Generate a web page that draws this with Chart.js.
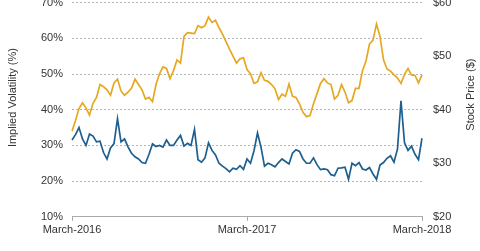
<!DOCTYPE html>
<html>
<head>
<meta charset="utf-8">
<script src="https://cdn.jsdelivr.net/npm/chart.js@4.4.1/dist/chart.umd.min.js"></script>
<style>
  html, body { margin: 0; padding: 0; background: #fff; overflow: hidden; }
  #wrap { position: absolute; left: 0; top: -15px; width: 480px; height: 266px; }
</style>
</head>
<body>
<div id="wrap"><canvas id="volChart"></canvas></div>
<script>
// roughly weekly readings, March 2016 to March 2018
const tickLabels = ['March-2016', 'March-2017', 'March-2018'];
const tickIndex = [0, 50, 100];

const impliedVol = [
    31.5, 33, 35, 31.8, 30, 33.2, 32.6, 31, 31.2, 28,
    26.2, 29.3, 30.5, 37.5, 31, 31.8, 29.6, 27.8, 26.8, 26.2,
    25.2, 25, 27.5, 30.4, 29.7, 30, 29.5, 31.5, 30, 30,
    31.5, 32.8, 29.8, 30.6, 30, 34.5, 26, 25.3, 26.5, 30.7,
    28.6, 27.3, 25, 24.2, 23.5, 22.6, 23.6, 23.3, 24.3, 23.3,
    26.2, 25, 28.5, 33.5, 29.5, 24.2, 25, 24.6, 24, 25.2,
    26.2, 25.5, 24.8, 27.8, 28.8, 28.3, 26.2, 25, 25, 26.5,
    24.6, 23.2, 23.4, 23.2, 21.8, 21.5, 23.6, 23.7, 23.9, 20.5,
    25, 24.3, 25.2, 23.4, 23.1, 23.8, 22, 20.5, 24.5, 25.2,
    26.4, 27.1, 25.3, 29, 42.5, 30.7, 28.6, 29.8, 27.5, 26,
    32
];

const stockPrice = [
    36.0, 38.0, 40.2, 41.3, 40.3, 39.0, 41.2, 42.3, 44.7, 44.3,
    43.7, 42.7, 45.0, 45.7, 43.5, 42.7, 43.3, 44.0, 45.7, 44.7,
    43.7, 42.0, 42.3, 41.5, 44.7, 46.7, 48.0, 47.7, 45.8, 47.3,
    49.3, 48.7, 53.7, 54.4, 54.3, 54.2, 55.7, 55.3, 55.7, 57.3,
    56.3, 56.7, 55.3, 54.1, 52.7, 51.3, 50.0, 48.7, 49.5, 49.7,
    47.5, 46.7, 44.9, 45.2, 46.9, 45.5, 45.3, 44.7, 43.9, 41.9,
    42.9, 42.5, 44.8, 42.5, 42.3, 41.1, 39.5, 38.7, 38.9, 41.1,
    43.0, 44.9, 45.8, 45.0, 44.7, 42.0, 42.7, 44.7, 43.3, 41.3,
    41.7, 44.0, 44.0, 47.3, 49.1, 52.3, 53.0, 56.0, 53.7, 49.3,
    47.6, 47.2, 46.5, 45.9, 44.9, 46.6, 47.7, 46.5, 46.4, 45.0,
    46.5
];

const leftTitle = 'Implied Volatility (%)';
const rightTitle = 'Stock Price ($)';

const FONT = '"Liberation Sans", Arial, sans-serif';
const TEXT = '#333333';

// both axis titles read bottom-to-top, so draw them by hand
const axisTitles = {
    id: 'axisTitles',
    afterDraw(chart) {
        const { ctx, chartArea } = chart;
        ctx.save();
        ctx.font = '11px ' + FONT;
        ctx.fillStyle = TEXT;
        ctx.textAlign = 'center';
        ctx.textBaseline = 'middle';
        [[12.5, chartArea.top + 95, leftTitle], [471, chartArea.top + 92, rightTitle]].forEach(([x, y, t]) => {
            ctx.save();
            ctx.translate(x, y);
            ctx.rotate(-Math.PI / 2);
            ctx.fillText(t, 0, 0);
            ctx.restore();
        });
        ctx.restore();
    }
};

new Chart(document.getElementById('volChart'), {
    type: 'line',
    data: {
        labels: stockPrice.map((_, i) => i),
        datasets: [
            {
                label: 'Implied Volatility',
                data: impliedVol,
                yAxisID: 'y',
                borderColor: '#1d5f8f',
                borderWidth: 1.7,
                pointRadius: 0,
                tension: 0
            },
            {
                label: 'Stock Price',
                data: stockPrice,
                yAxisID: 'y1',
                borderColor: '#e5a823',
                borderWidth: 1.7,
                pointRadius: 0,
                tension: 0
            }
        ]
    },
    options: {
        responsive: true,
        maintainAspectRatio: false,
        animation: false,
        layout: { padding: { top: 0, right: 0, bottom: 11, left: 0 } },
        plugins: {
            legend: { display: false },
            tooltip: { enabled: false }
        },
        scales: {
            x: {
                type: 'category',
                grid: { drawOnChartArea: false, drawTicks: true, tickLength: 4, color: '#aaaaaa' },
                border: { color: '#aaaaaa' },
                ticks: {
                    autoSkip: false,
                    maxRotation: 0,
                    padding: 3,
                    color: TEXT,
                    font: { family: FONT, size: 11 },
                    callback: (v, i) => {
                        const k = tickIndex.indexOf(i);
                        return k >= 0 ? tickLabels[k] : null;
                    }
                }
            },
            y: {
                position: 'left',
                min: 10,
                max: 70,
                afterFit: s => { s.width = 72; },
                grid: {
                    drawTicks: false,
                    color: c => (c.tick && c.tick.value === 10 ? 'rgba(0,0,0,0)' : '#b5b5b5')
                },
                border: { display: false, dash: [2, 2] },
                ticks: {
                    stepSize: 10,
                    padding: 9,
                    color: TEXT,
                    font: { family: FONT, size: 11 },
                    callback: v => v + '%'
                }
            },
            y1: {
                position: 'right',
                min: 20,
                max: 60,
                afterFit: s => { s.width = 58; },
                grid: { drawOnChartArea: false, drawTicks: false },
                border: { display: false },
                ticks: {
                    stepSize: 10,
                    padding: 11,
                    color: TEXT,
                    font: { family: FONT, size: 11 },
                    callback: v => '$' + v
                }
            }
        }
    },
    plugins: [axisTitles]
});
</script>
</body>
</html>
